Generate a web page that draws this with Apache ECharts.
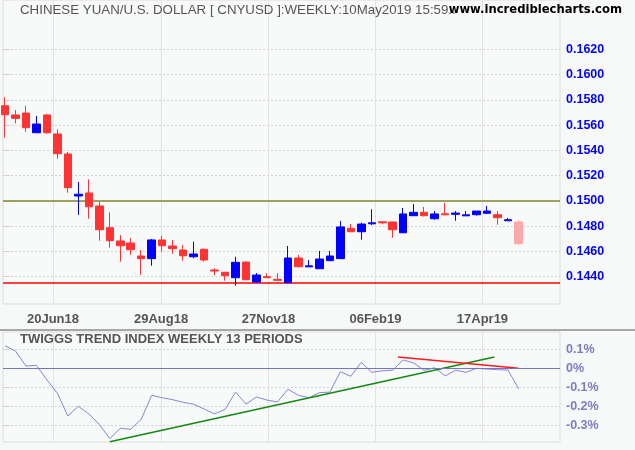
<!DOCTYPE html>
<html><head><meta charset="utf-8">
<script src="https://cdn.jsdelivr.net/npm/echarts@6/dist/echarts.min.js"></script>
<style>html,body{margin:0;padding:0;background:#f7f8f8;}#c{width:635px;height:450px;}</style>
</head><body><div id="c"></div>
<script>
// Weekly OHLC, CNY/USD
const opens  = [0.15754,0.15681,0.15696,0.15540,0.15681,0.15530,0.15372,0.15039,0.15063,0.14960,
                0.14788,0.14683,0.14667,0.14564,0.14543,0.14691,0.14643,0.14611,0.14558,0.14617,
                0.14453,0.14435,0.14392,0.14516,0.14358,0.14400,0.14379,0.14352,0.14548,0.14478,
                0.14463,0.14527,0.14543,0.14783,0.14756,0.14819,0.14835,0.14833,0.14748,0.14883,
                0.14910,0.14859,0.14898,0.14894,0.14882,0.14891,0.14902,0.14891,0.14843,0.14833];
const closes = [0.15683,0.15654,0.15580,0.15609,0.15540,0.15374,0.15105,0.15053,0.14954,0.14772,
                0.14685,0.14645,0.14614,0.14543,0.14691,0.14645,0.14622,0.14566,0.14580,0.14532,
                0.14445,0.14408,0.14514,0.14376,0.14413,0.14392,0.14371,0.14548,0.14479,0.14486,
                0.14540,0.14564,0.14794,0.14756,0.14817,0.14827,0.14827,0.14772,0.14897,0.14910,
                0.14883,0.14897,0.14890,0.14904,0.14890,0.14920,0.14920,0.14867,0.14851,0.14661];
const lows   = [0.15501,0.15615,0.15548,0.15540,0.15532,0.15334,0.15065,0.14889,0.14859,0.14685,
                0.14630,0.14519,0.14574,0.14416,0.14487,0.14598,0.14582,0.14527,0.14546,0.14519,
                0.14413,0.14368,0.14329,0.14372,0.14352,0.14390,0.14371,0.14352,0.14474,0.14478,
                0.14463,0.14527,0.14543,0.14756,0.14693,0.14809,0.14815,0.14709,0.14748,0.14883,
                0.14878,0.14851,0.14886,0.14843,0.14881,0.14883,0.14902,0.14812,0.14843,0.14649];
const highs  = [0.15821,0.15720,0.15754,0.15673,0.15688,0.15567,0.15388,0.15150,0.15171,0.14992,
                0.14910,0.14730,0.14706,0.14611,0.14699,0.14725,0.14691,0.14651,0.14677,0.14625,
                0.14467,0.14435,0.14558,0.14518,0.14429,0.14427,0.14427,0.14643,0.14572,0.14532,
                0.14604,0.14604,0.14841,0.14817,0.14828,0.14934,0.14835,0.14833,0.14944,0.14976,
                0.14952,0.14920,0.14984,0.14920,0.14920,0.14920,0.14960,0.14920,0.14865,0.14849];
// Twiggs Trend Index (13 weeks), percent
const twiggs = [0.121,0.093,0.014,0.018,-0.059,-0.129,-0.249,-0.198,-0.238,-0.293,
                -0.368,-0.314,-0.319,-0.266,-0.140,-0.153,-0.163,-0.177,-0.187,-0.212,
                -0.238,-0.214,-0.123,-0.186,-0.149,-0.165,-0.175,-0.108,-0.140,-0.153,
                -0.126,-0.123,-0.016,-0.040,0.034,-0.019,-0.011,-0.008,0.046,0.030,
                -0.008,0.005,-0.038,-0.008,-0.019,0.002,-0.002,-0.005,-0.007,-0.105];
const dateTickPos = [4.58, 14.89, 25.14, 35.35, 45.56];
const dateTickLabels = ['20Jun18','29Aug18','27Nov18','06Feb19','17Apr19'];
const priceTicks = [0.144,0.146,0.148,0.150,0.152,0.154,0.156,0.158,0.160,0.162];
const pctTicks = [0.1,0,-0.1,-0.2,-0.3];
const resistance = 0.1500;
const support = 0.14356;
const greenTrend = [[10,-0.384],[46.7,0.062]];
const redTrend = [[37.5,0.062],[49,0.002]];

const last = opens.length - 1;
const candles = opens.map((o,i)=>{
  const item = {value:[i,o,closes[i],lows[i],highs[i]]};
  if (i === last) item.itemStyle = {color:'#ffa8a8',color0:'#ffa8a8',borderColor:'#ffa8a8',borderColor0:'#ffa8a8'};
  return item;
});
const dateLabel = v => {
  let best=0; dateTickPos.forEach((p,k)=>{ if (Math.abs(p-v)<Math.abs(dateTickPos[best]-v)) best=k; });
  return dateTickLabels[best];
};
const FONT = '"Liberation Sans", Arial, sans-serif';
const xCommon = {type:'value', min:-0.19, max:52.96,
  axisLine:{show:false},
  axisTick:{show:false, customValues:dateTickPos},
  splitLine:{show:true, lineStyle:{color:'#e3e3e3', width:1}}};

const chart = echarts.init(document.getElementById('c'), null, {renderer:'canvas'});
chart.setOption({
  animation:false,
  backgroundColor:'#f7f8f8',
  grid:[
    {left:3, top:0, width:557, height:304, show:true, backgroundColor:'#f8f9f9', borderColor:'#dcdcdc', borderWidth:1},
    {left:3, top:332, width:557, height:110, show:true, backgroundColor:'#f8f9f9', borderColor:'#dcdcdc', borderWidth:1}
  ],
  xAxis:[
    Object.assign({gridIndex:0, axisLabel:{customValues:dateTickPos, formatter:dateLabel, margin:9,
      color:'#555', fontWeight:'bold', fontSize:13, fontFamily:FONT}}, xCommon),
    Object.assign({gridIndex:1, axisLabel:{show:false}}, xCommon)
  ],
  yAxis:[
    {type:'value', gridIndex:0, position:'right', min:0.141838, max:0.165912, scale:true,
     axisLine:{show:false},
     axisTick:{show:true, length:5, customValues:priceTicks, lineStyle:{color:'#d0d0d0'}},
     axisLabel:{customValues:priceTicks, formatter:v=>v.toFixed(4), margin:6, color:'#0000ff',
       fontWeight:'bold', fontSize:12.5, fontFamily:FONT},
     splitLine:{show:true, lineStyle:{color:'#d4d4d4', type:[2,2]}}},
    {type:'value', gridIndex:1, position:'right', min:-0.3858, max:0.1932,
     axisLine:{show:false},
     axisTick:{show:true, length:5, customValues:pctTicks, lineStyle:{color:'#d0d0d0'}},
     axisLabel:{customValues:pctTicks, formatter:v=>(Math.abs(v)<1e-9?'0':v.toFixed(1))+'%', margin:6,
       color:'#7c7cc4', fontWeight:'bold', fontSize:12.5, fontFamily:FONT},
     splitLine:{show:true, lineStyle:{color:'#d4d4d4', type:[2,2]}}}
  ],
  series:[
    {type:'candlestick', xAxisIndex:0, yAxisIndex:0, data:candles, encode:{x:0, y:[1,2,3,4]},
     barWidth:8, z:5,
     itemStyle:{color:'#0000ff', color0:'#ff3333', borderColor:'#0000ff', borderColor0:'#ff3333', borderWidth:1},
     markLine:{symbol:'none', silent:true, precision:6, label:{show:false}, animation:false,
       data:[{yAxis:resistance, lineStyle:{color:'#86862e', width:1.5, type:'solid'}},
             {yAxis:support, lineStyle:{color:'#ff0000', width:1.5, type:'solid'}}]}},
    {type:'line', xAxisIndex:1, yAxisIndex:1, data:twiggs.map((v,i)=>[i,v]), symbol:'none',
     lineStyle:{color:'#8686d6', width:1}, z:3,
     markLine:{symbol:'none', silent:true, precision:6, label:{show:false}, animation:false,
       data:[{yAxis:0}], lineStyle:{color:'#7474c8', width:1.2, type:'solid'}}},
    {type:'line', xAxisIndex:1, yAxisIndex:1, data:greenTrend, symbol:'none',
     lineStyle:{color:'#138a13', width:1.5}, z:4},
    {type:'line', xAxisIndex:1, yAxisIndex:1, data:redTrend, symbol:'none',
     lineStyle:{color:'#ff1a1a', width:1.5}, z:4}
  ],
  graphic:[
    {type:'rect', left:0, top:329, shape:{width:635, height:2}, style:{fill:'#a8a8a8'}, z:10},
    {type:'text', left:20, top:4, style:{text:'CHINESE YUAN/U.S. DOLLAR [ CNYUSD ]:WEEKLY:10May2019 15:59..',
      fill:'#555', font:'13.3px "Liberation Sans", Arial, sans-serif'}, z:10},
    {type:'text', right:13, top:4, style:{text:'www.incrediblecharts.com',
      fill:'#000', font:'bold 11.6px "DejaVu Sans", sans-serif'}, z:10},
    {type:'text', left:20, top:333, style:{text:'TWIGGS TREND INDEX WEEKLY 13 PERIODS',
      fill:'#555', font:'bold 13px "Liberation Sans", Arial, sans-serif'}, z:10}
  ]
});
</script></body></html>
